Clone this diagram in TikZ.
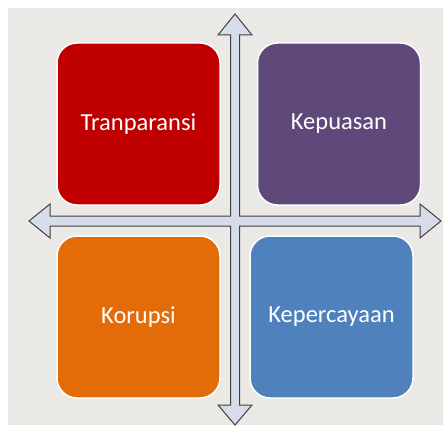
\documentclass[tikz,border=0pt]{standalone}
\usepackage{fontspec}
\setmainfont{Carlito}
\definecolor{paper}{HTML}{EAE9E6}
\definecolor{redbox}{HTML}{C00000}
\definecolor{purplebox}{HTML}{5F497A}
\definecolor{orangebox}{HTML}{E36C09}
\definecolor{bluebox}{HTML}{4F81BD}
\definecolor{axisfill}{HTML}{D6DCEA}
\definecolor{axisline}{HTML}{404040}
\begin{document}
\begin{tikzpicture}[
    x=1pt, y=1pt,
    node distance=193pt,
    box/.style={rectangle, draw=white, line width=1.5pt, rounded corners=20pt, minimum width=163pt, minimum height=162pt, text=white, font=\fontsize{24.5}{29}\selectfont},
    axes/.style={draw=axisline, fill=axisfill, line width=1pt, line join=miter}
  ]
    \useasboundingbox (0,0) rectangle (443,429);
    \fill [paper] (8,4) rectangle (443,421);

    % cross of double arrows
    \coordinate (c) at (235,208);
    \path [axes] (235,415) -- (252,394) -- (239.5,394) -- (239.5,213) -- (420,213) -- (420,225)
      -- (441,208) -- (420,191) -- (420,203) -- (239.5,203) -- (239.5,24) -- (252,24)
      -- (235,4) -- (218,24) -- (230.5,24) -- (230.5,203) -- (50,203) -- (50,191)
      -- (29,208) -- (50,225) -- (50,213) -- (230.5,213) -- (230.5,394) -- (218,394) -- cycle;

    \node [box, fill=redbox] (tranparansi) at (138.5,305) {Tranparansi};
    \node [box, fill=purplebox, right of=tranparansi, xshift=7.5pt] (kepuasan) {Kepuasan};
    \node [box, fill=orangebox, below of=tranparansi] (korupsi) {Korupsi};
    \node [box, fill=bluebox, right of=korupsi] (kepercayaan) {Kepercayaan};
  \end{tikzpicture}
\end{document}
